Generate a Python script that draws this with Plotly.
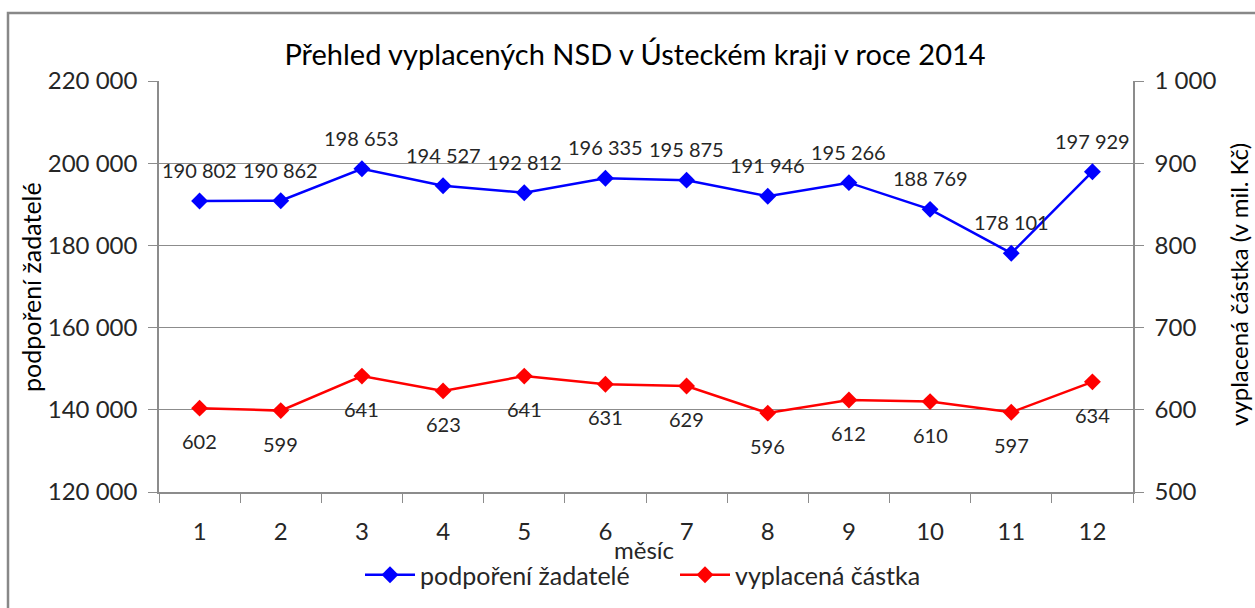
import plotly.graph_objects as go

months = ["1", "2", "3", "4", "5", "6", "7", "8", "9", "10", "11", "12"]
applicants = [190802, 190862, 198653, 194527, 192812, 196335, 195875, 191946, 195266, 188769, 178101, 197929]
amount = [602, 599, 641, 623, 641, 631, 629, 596, 612, 610, 597, 634]

left_ticks = [120000, 140000, 160000, 180000, 200000, 220000]
right_ticks = [500, 600, 700, 800, 900, 1000]

FONT = "Lato"
TXT = "#262626"
GRID = "#8c8c8c"

def fmt(v):
    return f"{v:,}".replace(",", " ")

def px(x):
    return (x - 159) / 974

def py(y):
    return (492 - y) / 411

fig = go.Figure()
fig.add_trace(go.Scatter(
    x=months, y=applicants, name="podpoření žadatelé", mode="lines+markers",
    line=dict(color="#0000FF", width=2.5),
    marker=dict(symbol="diamond", size=13, color="#0000FF"),
    yaxis="y",
))
fig.add_trace(go.Scatter(
    x=months, y=amount, name="vyplacená částka", mode="lines+markers",
    line=dict(color="#FF0000", width=2.5),
    marker=dict(symbol="diamond", size=13, color="#FF0000"),
    yaxis="y2",
))

annotations = []
for i, v in enumerate(applicants):
    annotations.append(dict(x=i, y=v, xref="x", yref="y", text=fmt(v), showarrow=False,
                            yshift=31, font=dict(family=FONT, size=20, color=TXT)))
for i, v in enumerate(amount):
    annotations.append(dict(x=i, y=v, xref="x", yref="y2", text=str(v), showarrow=False,
                            yshift=-33, font=dict(family=FONT, size=20, color=TXT)))

annotations.append(dict(x=px(31), y=py(287), xref="paper", yref="paper",
                        xanchor="center", yanchor="middle",
                        text="podpoření žadatelé", textangle=-90, showarrow=False,
                        font=dict(family=FONT, size=25, color="#000")))
annotations.append(dict(x=px(1238), y=py(285), xref="paper", yref="paper",
                        xanchor="center", yanchor="middle",
                        text="vyplacená částka (v mil. Kč)", textangle=-90, showarrow=False,
                        font=dict(family=FONT, size=24, color="#000")))
annotations.append(dict(x=px(644), y=py(549), xref="paper", yref="paper",
                        xanchor="center", yanchor="middle",
                        text="měsíc", showarrow=False,
                        font=dict(family=FONT, size=24, color=TXT)))

fig.update_layout(
    width=1255, height=608,
    margin=dict(l=159, r=122, t=81, b=116, autoexpand=False),
    paper_bgcolor="white", plot_bgcolor="white",
    separators=", ",
    font=dict(family=FONT, color=TXT),
    annotations=annotations,
    title=dict(text="Přehled vyplacených NSD v Ústeckém kraji v roce 2014",
               x=635 / 1255, xref="container", xanchor="center",
               y=1 - 55 / 608, yref="container", yanchor="middle",
               font=dict(family=FONT, size=29, color="#000")),
    xaxis=dict(type="category", categoryorder="array", categoryarray=months,
               range=[-0.5, 11.5], tickson="boundaries", ticks="outside", ticklen=9,
               tickcolor=GRID, showline=True, linecolor=GRID, linewidth=1.5,
               showgrid=False, ticklabelstandoff=17, automargin=False,
               tickfont=dict(family=FONT, size=24, color=TXT)),
    yaxis=dict(range=[120000, 220000], tickvals=left_ticks, tickformat=",d",
               ticks="outside", ticklen=9, tickcolor=GRID,
               showline=True, linecolor=GRID, linewidth=1.5,
               showgrid=True, gridcolor=GRID, gridwidth=1, automargin=False,
               ticklabelstandoff=6,
               zeroline=False, tickfont=dict(family=FONT, size=24, color=TXT)),
    yaxis2=dict(range=[500, 1000], tickvals=right_ticks, tickformat=",d",
                overlaying="y", side="right",
                ticks="outside", ticklen=9, tickcolor=GRID,
                showline=True, linecolor=GRID, linewidth=1.5,
                showgrid=False, zeroline=False, automargin=False,
                ticklabelstandoff=6,
                tickfont=dict(family=FONT, size=24, color=TXT)),
    legend=dict(orientation="h", x=px(360), xanchor="left",
                y=py(575), yanchor="middle",
                itemwidth=50, entrywidth=250, entrywidthmode="pixels",
                font=dict(family=FONT, size=25, color=TXT)),
    showlegend=True,
)

fig.add_shape(type="rect", xref="paper", yref="paper",
              x0=px(8), x1=px(1275),
              y0=py(640), y1=py(13),
              line=dict(color="#888888", width=2.5), fillcolor="rgba(0,0,0,0)", layer="below")

fig.write_html("out.html", config={"displayModeBar": False},
               post_script="document.body.style.margin='0';document.body.style.overflow='hidden';")
